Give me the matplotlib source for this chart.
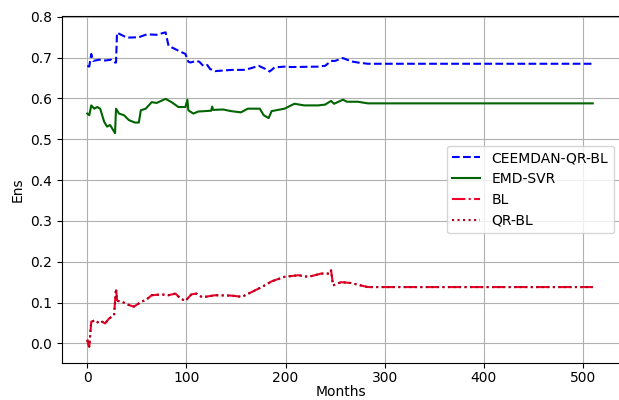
import matplotlib
matplotlib.use("Agg")
import matplotlib.pyplot as plt

# -----------------------
# Data (Ens per month)
# -----------------------
ceemdan_months = [0, 2, 4, 6, 12, 18, 24, 28, 29, 30, 40, 52, 60, 70, 79, 82, 92, 99, 102, 104,
                  110, 113, 117, 121, 124, 129, 146, 159, 165, 173, 180, 184, 189, 199, 206, 233,
                  240, 246, 250, 258, 266, 273, 283, 510]
ceemdan_ens = [0.680, 0.678, 0.709, 0.692, 0.695, 0.693, 0.695, 0.688, 0.688, 0.761,
               0.749, 0.750, 0.757, 0.756, 0.762, 0.729, 0.717, 0.709, 0.690, 0.688,
               0.692, 0.690, 0.680, 0.682, 0.672, 0.667, 0.670, 0.670, 0.674, 0.680,
               0.672, 0.666, 0.676, 0.678, 0.677, 0.678, 0.680, 0.692, 0.692, 0.699,
               0.691, 0.688, 0.685, 0.685]

svr_months = [0, 2, 4, 7, 10, 13, 17, 20, 23, 25, 28, 29, 32, 37, 42, 48, 52, 54, 59, 65,
              70, 79, 85, 92, 99, 101, 102, 107, 112, 125, 126, 127, 137, 145, 155, 162, 174,
              178, 183, 186, 199, 209, 219, 233, 240, 246, 249, 258, 262, 273, 283, 510]
svr_ens = [0.563, 0.559, 0.583, 0.575, 0.579, 0.575, 0.543, 0.531, 0.535, 0.527,
           0.515, 0.575, 0.563, 0.559, 0.547, 0.541, 0.541, 0.571, 0.575, 0.591,
           0.589, 0.599, 0.591, 0.579, 0.579, 0.597, 0.571, 0.563, 0.568, 0.570,
           0.580, 0.572, 0.573, 0.569, 0.566, 0.575, 0.575, 0.559, 0.552, 0.569,
           0.575, 0.587, 0.583, 0.583, 0.585, 0.594, 0.587, 0.597, 0.592, 0.592,
           0.588, 0.588]

bl_months = [0, 1, 2, 4, 8, 12, 15, 18, 22, 27, 29, 30, 31, 35, 42, 47, 52, 54, 59, 65,
             75, 82, 89, 94, 99, 105, 110, 116, 129, 146, 156, 166, 176, 186, 199, 213,
             223, 236, 245, 246, 248, 256, 266, 276, 283, 510]
bl_ens = [0.009, -0.003, -0.008, 0.053, 0.057, 0.049, 0.053, 0.049, 0.061, 0.069,
          0.134, 0.106, 0.104, 0.102, 0.094, 0.090, 0.098, 0.102, 0.106, 0.118,
          0.120, 0.118, 0.122, 0.110, 0.104, 0.120, 0.122, 0.113, 0.118, 0.117,
          0.114, 0.126, 0.138, 0.152, 0.163, 0.167, 0.163, 0.171, 0.171, 0.179,
          0.142, 0.150, 0.148, 0.142, 0.138, 0.138]

qrbl_months = list(bl_months)
qrbl_ens = [0.009, -0.003, -0.008, 0.053, 0.057, 0.049, 0.053, 0.049, 0.061, 0.069,
            0.134, 0.106, 0.104, 0.102, 0.094, 0.090, 0.098, 0.102, 0.106, 0.118,
            0.120, 0.118, 0.122, 0.110, 0.104, 0.120, 0.122, 0.113, 0.118, 0.117,
            0.114, 0.126, 0.138, 0.152, 0.163, 0.167, 0.163, 0.171, 0.171, 0.179,
            0.142, 0.150, 0.148, 0.142, 0.138, 0.138]

# -----------------------
# Plot
# -----------------------
fig = plt.figure(figsize=(6.19, 4.0), dpi=100)
ax = fig.add_axes([0.0997, 0.0925, 0.9027, 0.8675])

ax.plot(ceemdan_months, ceemdan_ens, color="blue", linestyle="--", linewidth=1.5,
        label="CEEMDAN-QR-BL")
ax.plot(svr_months, svr_ens, color="darkgreen", linestyle="-", linewidth=1.5,
        label="EMD-SVR")
ax.plot(bl_months, bl_ens, color="#f0002a", linestyle="-.", linewidth=1.5,
        label="BL")
ax.plot(qrbl_months, qrbl_ens, color="#b0001a", linestyle=":", linewidth=1.5,
        label="QR-BL")

ax.set_xlim(-25.8, 538)
ax.set_ylim(-0.048, 0.802)
ax.set_xticks([0, 100, 200, 300, 400, 500])
ax.set_yticks([0.0, 0.1, 0.2, 0.3, 0.4, 0.5, 0.6, 0.7, 0.8])
ax.tick_params(axis="x", pad=2)

ax.set_xlabel("Months", labelpad=0)
ax.set_ylabel("Ens")
ax.grid(True, color="#b0b0b0", linewidth=0.8)
ax.legend(loc="center right")

fig.savefig("out.png", dpi=100)
